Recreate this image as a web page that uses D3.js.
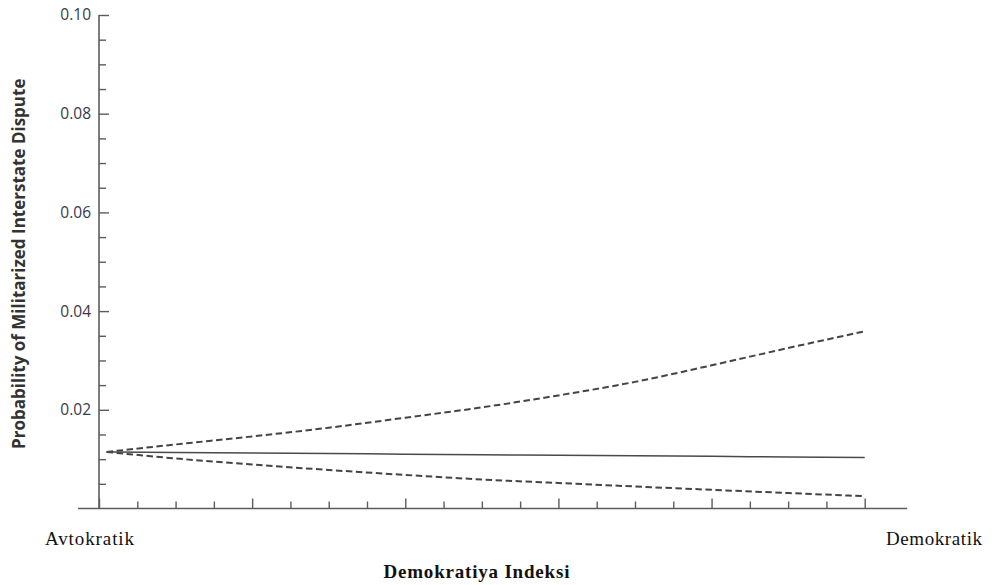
<!DOCTYPE html>
<html lang="en">
<head>
    <meta charset="UTF-8">
    <title>Probability of MID by Democracy Index</title>
    <script src="https://cdn.jsdelivr.net/npm/d3@7"></script>
    <style>
        body { margin: 0; background: #fff; }
        svg { display: block; }
    </style>
</head>
<body>
<script>
    // democracy index rescaled 0..1 (Avtokratik -> Demokratik)
    const democracyIndex = [0.01, 0.1, 0.2, 0.3, 0.4, 0.5, 0.6, 0.7, 0.8, 0.9, 1.0]
    const predicted = [0.01146, 0.01136, 0.01124, 0.01113, 0.01101, 0.01090, 0.01079, 0.01068, 0.01057, 0.01045, 0.01034]
    const upperCI = [0.01146, 0.01298, 0.01460, 0.01637, 0.01840, 0.02049, 0.02292, 0.02566, 0.02901, 0.03252, 0.03590]
    const lowerCI = [0.01146, 0.01014, 0.00892, 0.00781, 0.00680, 0.00588, 0.00517, 0.00446, 0.00379, 0.00314, 0.00249]
    const yMajorTicks = [0.02, 0.04, 0.06, 0.08, 0.10]
    const yTickLabels = ['0.02', '0.04', '0.06', '0.08', '0.10']
    const xMajorTicks = [0, 0.2, 0.4, 0.6, 0.8, 1.0]
    const xEndLabels = ['Avtokratik', 'Demokratik']
    const xTitle = 'Demokratiya Indeksi'
    const yTitle = 'Probability of Militarized Interstate Dispute'

    const [width, height] = [998, 585]
    const axisColor = '#5c5c5c'

    const x = d3.scaleLinear().domain([0, 1]).range([99, 864.7])
    const y = d3.scaleLinear().domain([0, 0.1]).range([508.5, 15])

    const svg = d3.select('body').append('svg')
        .attr('width', width)
        .attr('height', height)

    const xMinor = d3.range(0, 1.0001, 0.05).filter(v => !xMajorTicks.some(m => Math.abs(m - v) < 1e-9))
    const yMinor = d3.range(0.005, 0.1001, 0.005).filter(v => !yMajorTicks.some(m => Math.abs(m - v) < 1e-9))

    // x axis: ticks point up, no numbers
    const gx = svg.append('g').attr('transform', `translate(0,${y(0)})`)
    gx.append('line')
        .attr('x1', x(-0.0275)).attr('x2', x(1.0555))
        .attr('stroke', axisColor).attr('stroke-width', 1.6)
    gx.append('g').call(d3.axisBottom(x).tickValues(xMajorTicks).tickSize(-10).tickFormat(''))
    gx.append('g').call(d3.axisBottom(x).tickValues(xMinor).tickSize(-7).tickFormat(''))
    gx.selectAll('.domain').remove()
    gx.selectAll('.tick line').attr('stroke', axisColor).attr('stroke-width', 1.4)

    // y axis: ticks point right, labels on the left
    const gy = svg.append('g').attr('transform', `translate(${x(0)},0)`)
    gy.append('line')
        .attr('y1', y(0)).attr('y2', y(0.1))
        .attr('stroke', axisColor).attr('stroke-width', 1.6)
    gy.append('g').call(d3.axisLeft(y).tickValues(yMajorTicks).tickSize(-10).tickPadding(8)
        .tickFormat((d, i) => yTickLabels[i]))
    gy.append('g').call(d3.axisLeft(y).tickValues(yMinor).tickSize(-7).tickFormat(''))
    gy.selectAll('.domain').remove()
    gy.selectAll('.tick line').attr('stroke', axisColor).attr('stroke-width', 1.4)
    gy.selectAll('.tick text')
        .attr('font-family', '"Open Sans", sans-serif')
        .attr('font-size', 15.5)
        .attr('fill', '#38384a')

    // lines
    const line = d3.line()
        .x(d => x(d[0]))
        .y(d => y(d[1]))
        .curve(d3.curveMonotoneX)

    const series = [
        {values: upperCI, dash: '6.5,3.5', width: 2, color: '#444'},
        {values: lowerCI, dash: '6.5,3.5', width: 2, color: '#444'},
        {values: predicted, dash: null, width: 1.5, color: '#4a4a4a'}
    ]
    svg.selectAll('path.series').data(series).enter()
        .append('path').attr('class', 'series')
        .attr('d', s => line(democracyIndex.map((v, i) => [v, s.values[i]])))
        .attr('fill', 'none')
        .attr('stroke', s => s.color)
        .attr('stroke-width', s => s.width)
        .attr('stroke-dasharray', s => s.dash)

    // texts
    svg.append('text')
        .attr('transform', `translate(25,${y(0.0496)}) rotate(-90)`)
        .attr('text-anchor', 'middle')
        .attr('font-family', '"Open Sans", sans-serif')
        .attr('font-weight', 'bold')
        .attr('font-size', 17)
        .attr('fill', '#333')
        .text(yTitle)

    const serif = '"Liberation Serif", "Times New Roman", serif'
    svg.append('text')
        .attr('x', x(0) - 54).attr('y', 545)
        .attr('font-family', serif).attr('font-size', 19)
        .attr('letter-spacing', 0.9)
        .attr('fill', '#111')
        .text(xEndLabels[0])
    svg.append('text')
        .attr('x', x(1) + 118).attr('y', 545)
        .attr('text-anchor', 'end')
        .attr('font-family', serif).attr('font-size', 19)
        .attr('letter-spacing', 0.6)
        .attr('fill', '#111')
        .text(xEndLabels[1])
    svg.append('text')
        .attr('x', x(0.4935)).attr('y', 578)
        .attr('text-anchor', 'middle')
        .attr('font-family', serif).attr('font-size', 19)
        .attr('font-weight', 'bold')
        .attr('letter-spacing', 0.8)
        .attr('fill', '#111')
        .text(xTitle)
</script>
</body>
</html>
